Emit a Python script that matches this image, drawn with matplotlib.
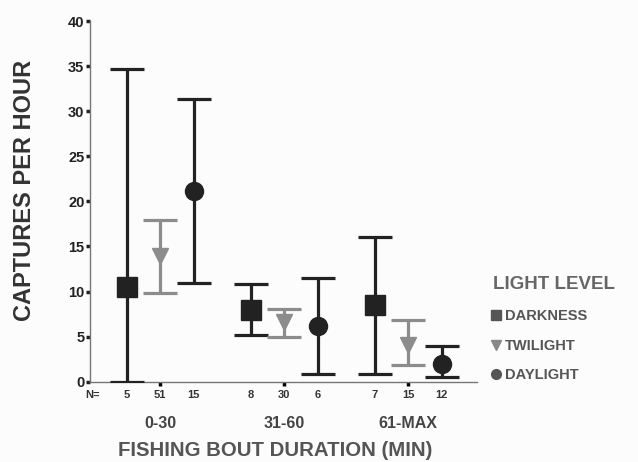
import numpy as np
import matplotlib
matplotlib.use("Agg")
import matplotlib.pyplot as plt
from matplotlib.lines import Line2D

plt.rcParams['font.family'] = ['Liberation Sans', 'DejaVu Sans']
plt.rcParams['font.weight'] = 'bold'

groups = ['0-30', '31-60', '61-MAX']

darkness_mean = [10.5, 7.9, 8.5]
darkness_low = [0.0, 5.2, 0.8]
darkness_high = [34.7, 10.8, 16.1]
darkness_n = [5, 8, 7]

twilight_mean = [13.9, 6.6, 4.05]
twilight_low = [9.8, 4.9, 1.8]
twilight_high = [17.9, 8.05, 6.8]
twilight_n = [51, 30, 15]

daylight_mean = [21.2, 6.2, 2.0]
daylight_low = [10.9, 0.8, 0.5]
daylight_high = [31.4, 11.5, 3.9]
daylight_n = [15, 6, 12]

dark = '#222222'
gray = '#8c8c8c'
text_gray = '#555555'

fig = plt.figure(figsize=(6.38, 4.62), dpi=100, facecolor='#fcfcfc')
ax = fig.add_axes([0.141, 0.174, 0.607, 0.78])
ax.set_facecolor('#fcfcfc')

x = np.arange(1, len(groups) + 1)
off = 0.27

series = [
    (darkness_mean, darkness_low, darkness_high, darkness_n, -off, 's', dark, 14),
    (twilight_mean, twilight_low, twilight_high, twilight_n, 0.0, 'v', gray, 12),
    (daylight_mean, daylight_low, daylight_high, daylight_n, off, 'o', dark, 13),
]

for mean, low, high, n, dx, mk, col, ms in series:
    mean = np.array(mean)
    err = [mean - np.array(low), np.array(high) - mean]
    ax.errorbar(x + dx, mean, yerr=err, fmt=mk, color=col, ecolor=col,
                markersize=ms, elinewidth=2.3, capsize=12.5, capthick=2.3,
                zorder=3)
    for xi, ni in zip(x + dx, n):
        ax.text(xi, -0.0375, str(ni), transform=ax.get_xaxis_transform(),
                ha='center', va='center', fontsize=8, color='#333333')

ax.text(0.006, -0.0375, 'N=', transform=ax.transAxes, ha='center',
        va='center', fontsize=8, color='#333333')
for xi, g in zip(x, groups):
    ax.text(xi, -0.115, g, transform=ax.get_xaxis_transform(), ha='center',
            va='center', fontsize=11.5, color='#444444')

ax.set_xlim(0.435, 3.556)
ax.set_ylim(0, 40)
ax.set_yticks(np.arange(0, 41, 5))
ax.set_yticklabels([str(v) for v in range(0, 41, 5)], fontweight='bold')
ax.set_xticks(x)
ax.set_xticklabels([])
ax.tick_params(axis='y', length=3, width=2.5, pad=1, labelsize=10.5,
               colors='#222222')
ax.tick_params(axis='x', length=3, width=2.5, direction='out')

for s in ['top', 'right']:
    ax.spines[s].set_visible(False)
for s in ['left', 'bottom']:
    ax.spines[s].set_color('#777777')
    ax.spines[s].set_linewidth(1)

fig.text(0.038, 0.587, 'CAPTURES PER HOUR', rotation=90, ha='center',
         va='center', fontsize=17, fontweight='bold', color='#333333')
fig.text(0.431, 0.025, 'FISHING BOUT DURATION (MIN)', ha='center',
         va='center', fontsize=14.7, fontweight='bold', color=text_gray)

handles = [
    Line2D([], [], marker='s', ls='none', color='#555555', markersize=7),
    Line2D([], [], marker='v', ls='none', color='#888888', markersize=7),
    Line2D([], [], marker='o', ls='none', color='#555555', markersize=7),
]
leg = ax.legend(handles, ['DARKNESS', 'TWILIGHT', 'DAYLIGHT'],
                title='LIGHT LEVEL', loc='upper left',
                bbox_to_anchor=(1.025, 0.31), frameon=False,
                handlelength=0.5, handletextpad=0.35, labelspacing=1.05,
                alignment='left', borderaxespad=0,
                prop={'size': 10.5, 'weight': 'bold'},
                title_fontproperties={'size': 13.5, 'weight': 'bold'})
leg.get_title().set_color('#666666')
leg._legend_box.sep = 12
for t in leg.get_texts():
    t.set_color(text_gray)

fig.savefig('out.png', dpi=100, facecolor=fig.get_facecolor())
